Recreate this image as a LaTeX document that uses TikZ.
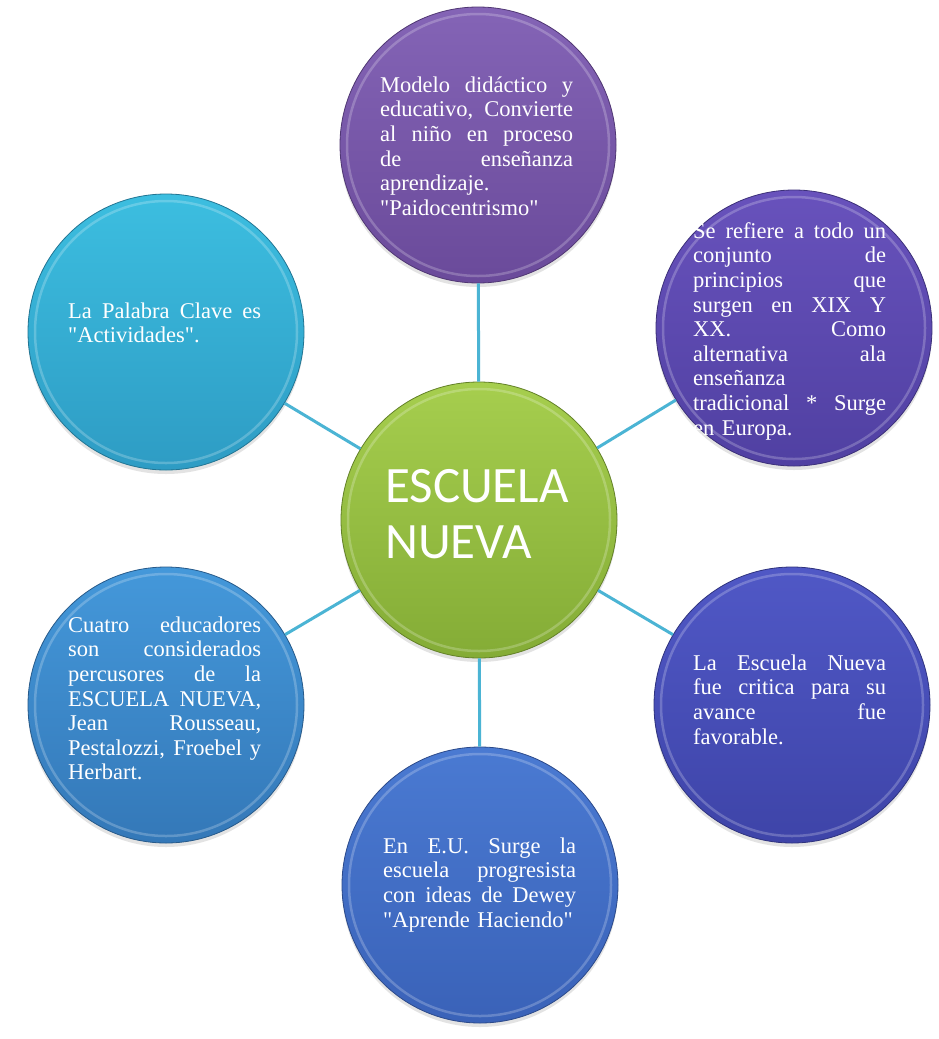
\documentclass[tikz,border=0pt]{standalone}
\usepackage{fontspec}
\setmainfont{Liberation Serif}[Ligatures=TeXOff]
\newfontfamily\carlitofont{Carlito}
\usetikzlibrary{shadows}
\definecolor{linkc}{HTML}{4BB4D4}
\definecolor{purT}{HTML}{8464B6}
\definecolor{purB}{HTML}{6A4A9A}
\definecolor{indT}{HTML}{6852BC}
\definecolor{indB}{HTML}{5040A2}
\definecolor{bluT}{HTML}{5058C6}
\definecolor{bluB}{HTML}{3E44A8}
\definecolor{botT}{HTML}{4A7AD2}
\definecolor{botB}{HTML}{3A62B8}
\definecolor{llT}{HTML}{4498DA}
\definecolor{llB}{HTML}{3478B8}
\definecolor{ulT}{HTML}{3CBEE0}
\definecolor{ulB}{HTML}{2E9CC4}
\definecolor{grT}{HTML}{A6CE4E}
\definecolor{grB}{HTML}{84AC36}
\newcommand\lineJ[1]{{\spaceskip=.25em plus 1fil\relax\xspaceskip=.25em plus 1fil\relax\makebox[193pt][s]{#1}}}
\newcommand\lineL[1]{\makebox[193pt][l]{#1}}
\newcommand\firststrut{\rule{0pt}{22pt}}
\newcommand\qd{\symbol{34}}
\tikzset{
  bubble/.style n args={2}{circle, minimum size=276pt, inner sep=0pt,
    top color=#1, bottom color=#2, draw=#2!75!black, line width=0.8pt,
    drop shadow={shadow xshift=0pt, shadow yshift=-4pt, opacity=0.22}},
  rim/.style={draw=white, opacity=0.22, line width=2.5pt},
  conn/.style={draw=linkc, line width=3pt},
  txt/.style={inner sep=0pt, text width=193pt, align=left, text=white,
    font=\fontsize{22.5}{24.6}\selectfont, anchor=north west},
  ctxt/.style={inner sep=0pt, align=left, text=white,
    font=\carlitofont\fontsize{51}{56}\selectfont, anchor=north west}
}
\begin{document}
\begin{tikzpicture}[x=1pt,y=1pt]
\useasboundingbox[fill=white] (0,0) rectangle (938,-1039);
% circles
\node[bubble={purT}{purB}] (T)  at (478,-145) {};
\node[bubble={indT}{indB}] (UR) at (794,-328) {};
\node[bubble={bluT}{bluB}] (LR) at (792,-705) {};
\node[bubble={botT}{botB}] (B)  at (480,-885) {};
\node[bubble={llT}{llB}]   (LL) at (166,-705) {};
\node[bubble={ulT}{ulB}]   (UL) at (166,-332) {};
\node[bubble={grT}{grB}]   (C)  at (479,-520) {};
\foreach \n in {T,UR,LR,B,LL,UL,C}
  \draw[rim] (\n.center) circle[radius=131pt];
% connectors
\draw[conn] (C) -- (T);
\draw[conn] (C) -- (UR);
\draw[conn] (C) -- (LR);
\draw[conn] (C) -- (B);
\draw[conn] (C) -- (LL);
\draw[conn] (C) -- (UL);
% texts
\node[ctxt] (Ct) at (385,-454) {\rule{0pt}{48pt}ESCUELA\\NUEVA};
\node[txt] (Tt) at (380,-70) {\firststrut\lineJ{Modelo didáctico y}\\
  \lineJ{educativo, Convierte}\\\lineJ{al niño en proceso}\\
  \lineJ{de enseñanza}\\\lineL{aprendizaje.}\\\lineL{\qd Paidocentrismo\qd}};
\node[txt] (URt) at (693,-216) {\firststrut\lineJ{Se refiere a todo un}\\
  \lineJ{conjunto de}\\\lineJ{principios que}\\\lineJ{surgen en XIX Y}\\
  \lineJ{XX. Como}\\\lineJ{alternativa ala}\\\lineL{enseñanza}\\
  \lineJ{tradicional * Surge}\\\lineL{en Europa.}};
\node[txt] (LRt) at (693,-648) {\firststrut\lineJ{La Escuela Nueva}\\
  \lineJ{fue critica para su}\\\lineJ{avance fue}\\\lineL{favorable.}};
\node[txt] (Bt) at (383,-831) {\firststrut\lineJ{En E.U. Surge la}\\
  \lineJ{escuela progresista}\\\lineJ{con ideas de Dewey}\\
  \lineL{\qd Aprende Haciendo\qd}};
\node[txt] (LLt) at (68,-610) {\firststrut\lineJ{Cuatro educadores}\\
  \lineJ{son considerados}\\\lineJ{percusores de la}\\
  \lineJ{ESCUELA NUEVA,}\\\lineJ{Jean Rousseau,}\\
  \lineJ{Pestalozzi, Froebel y}\\\lineL{Herbart.}};
\node[txt] (ULt) at (68,-296) {\firststrut\lineJ{La Palabra Clave es}\\
  \lineL{\qd Actividades\qd.}};
\end{tikzpicture}
\end{document}
